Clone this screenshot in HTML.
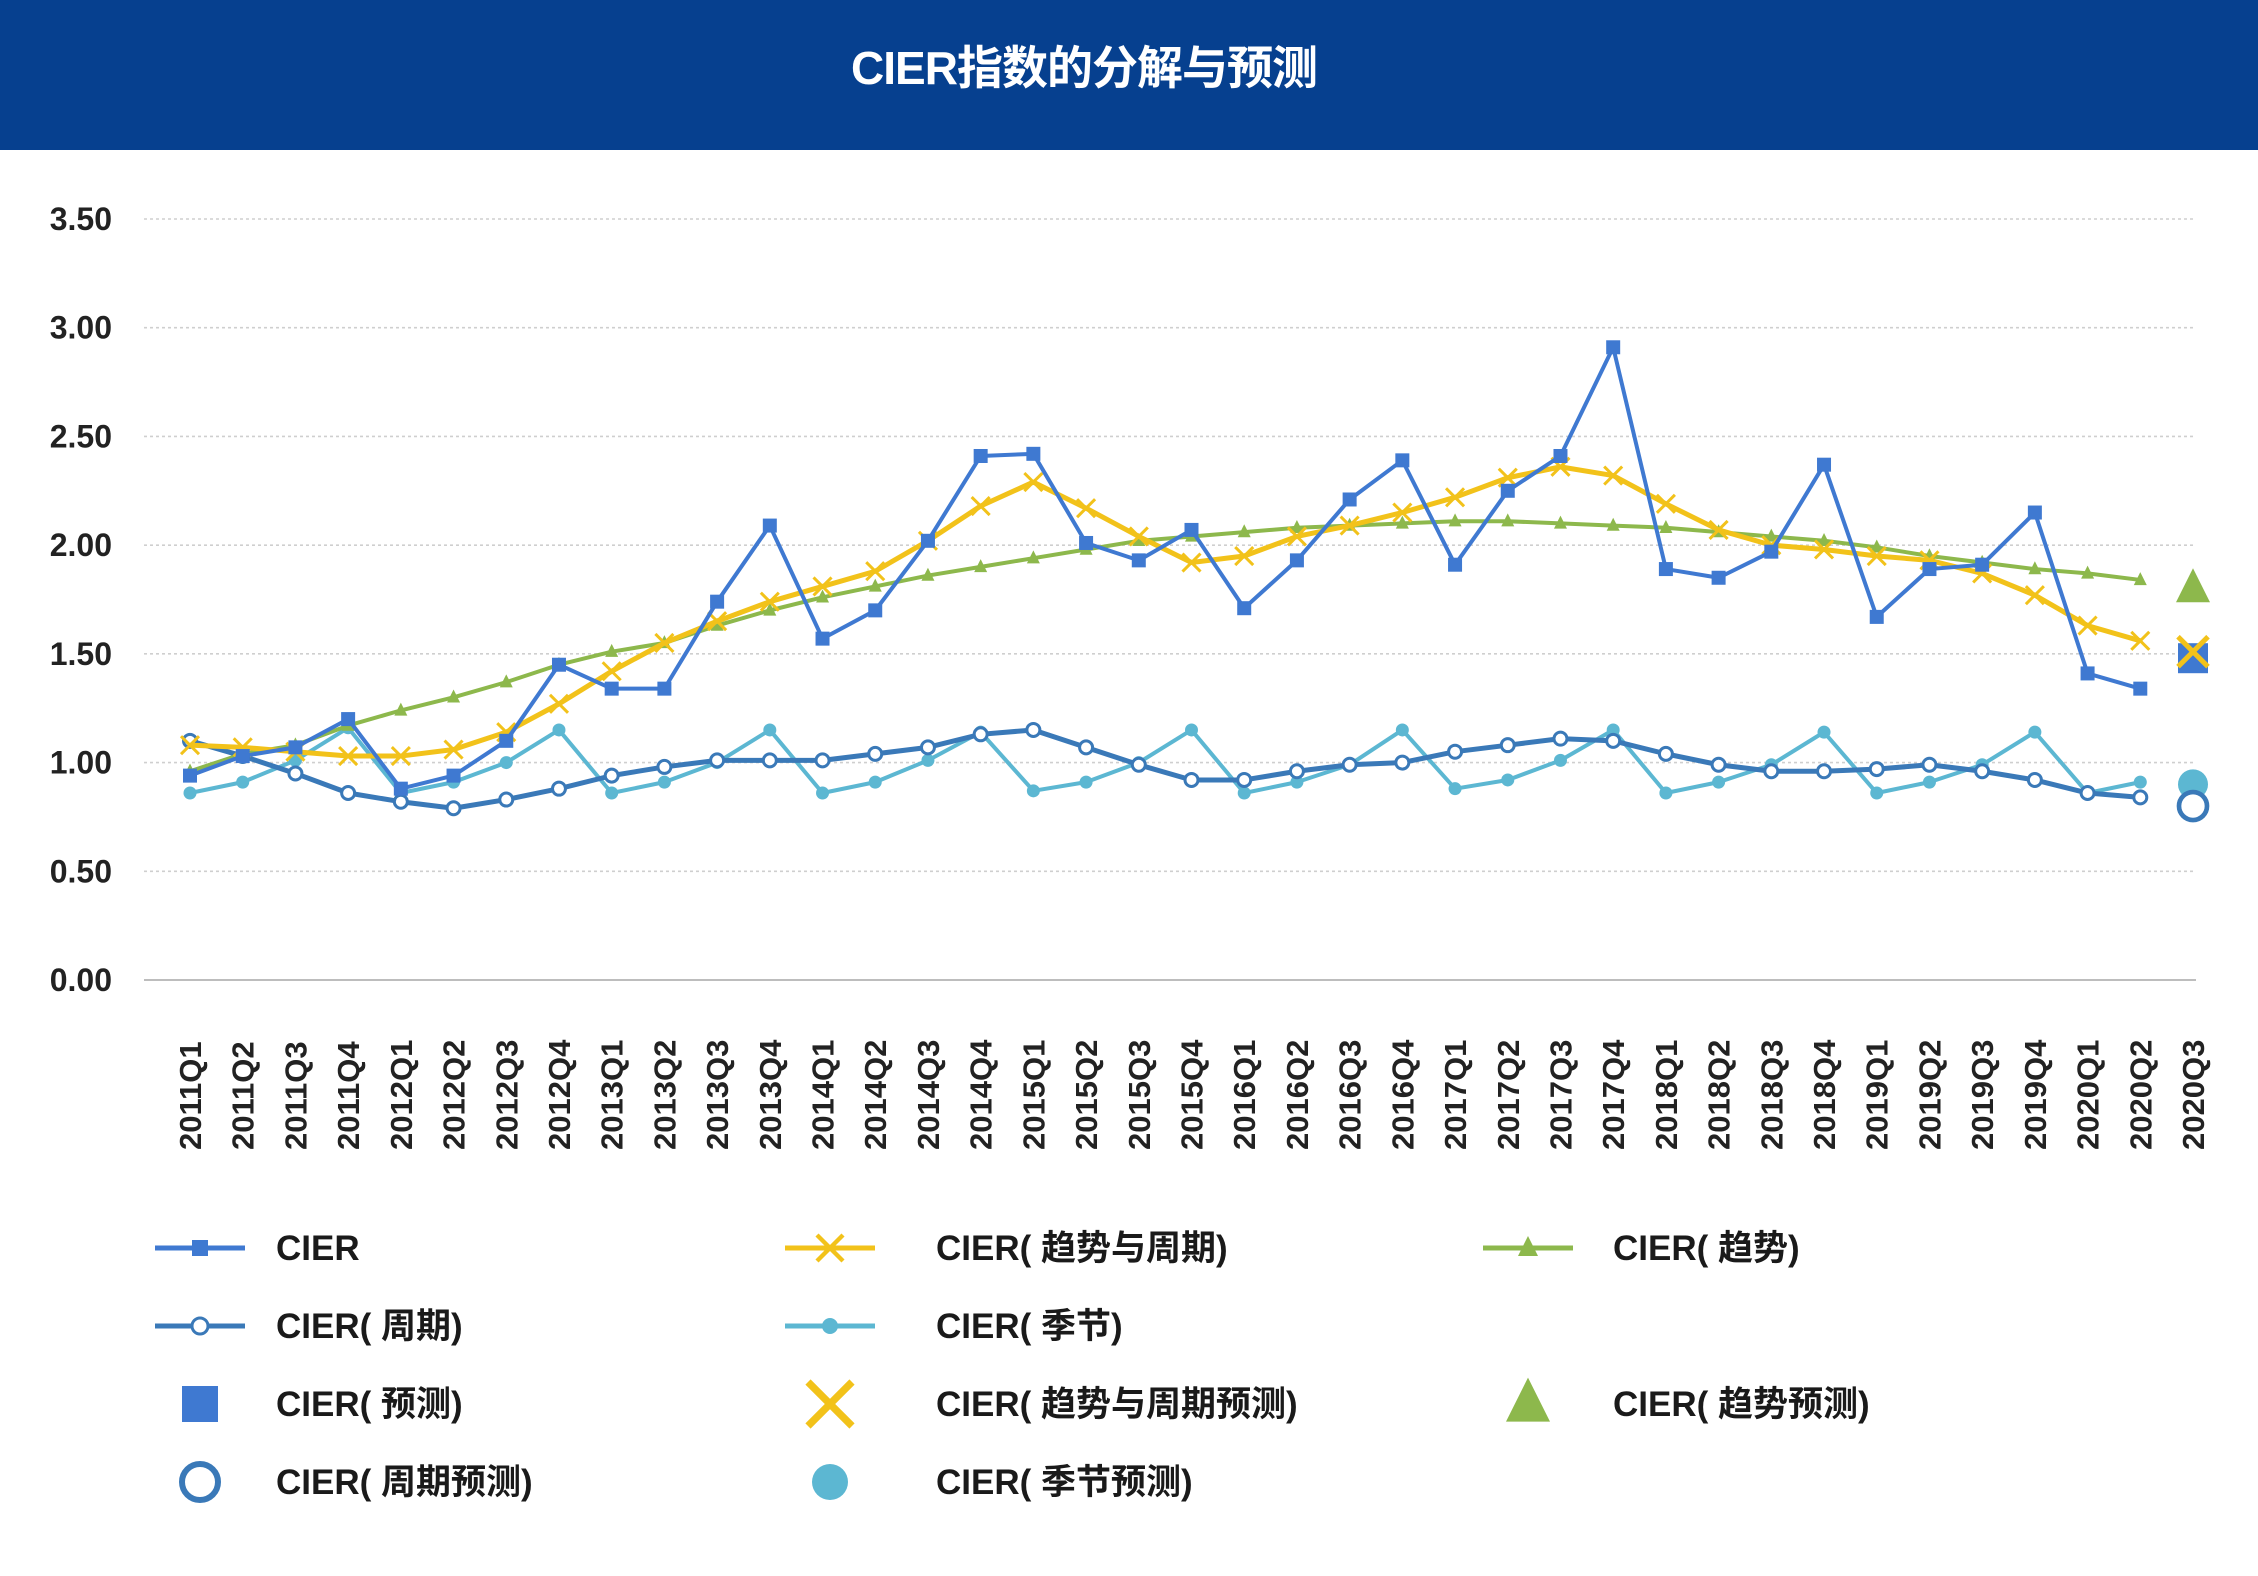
<!DOCTYPE html>
<html><head><meta charset="utf-8">
<style>
html,body{margin:0;padding:0;background:#fff;}
body{width:2258px;height:1576px;position:relative;overflow:hidden;font-family:"Liberation Sans","Noto Sans CJK SC",sans-serif;}
#hdr{position:absolute;left:0;top:0;width:2258px;height:150px;background:#06408f;}
#ttl{position:absolute;left:584px;top:0;width:1000px;height:136px;line-height:136px;text-align:center;color:#fff;font-size:46px;font-weight:bold;letter-spacing:-1px;}
svg{position:absolute;left:0;top:0;}
</style></head><body>
<div id="hdr"><div id="ttl">CIER指数的分解与预测</div></div>
<svg id="chart" width="2258" height="1576"></svg>
<script>
const categories=["2011Q1","2011Q2","2011Q3","2011Q4","2012Q1","2012Q2","2012Q3","2012Q4","2013Q1","2013Q2","2013Q3","2013Q4","2014Q1","2014Q2","2014Q3","2014Q4","2015Q1","2015Q2","2015Q3","2015Q4","2016Q1","2016Q2","2016Q3","2016Q4","2017Q1","2017Q2","2017Q3","2017Q4","2018Q1","2018Q2","2018Q3","2018Q4","2019Q1","2019Q2","2019Q3","2019Q4","2020Q1","2020Q2","2020Q3"];
const cier=[0.94,1.03,1.07,1.20,0.88,0.94,1.10,1.45,1.34,1.34,1.74,2.09,1.57,1.70,2.02,2.41,2.42,2.01,1.93,2.07,1.71,1.93,2.21,2.39,1.91,2.25,2.41,2.91,1.89,1.85,1.97,2.37,1.67,1.89,1.91,2.15,1.41,1.34];
const trendCycle=[1.08,1.07,1.05,1.03,1.03,1.06,1.14,1.27,1.42,1.55,1.65,1.74,1.81,1.88,2.02,2.18,2.29,2.17,2.04,1.92,1.95,2.04,2.09,2.15,2.22,2.31,2.36,2.32,2.19,2.07,2.00,1.98,1.95,1.93,1.87,1.77,1.63,1.56];
const trend=[0.96,1.04,1.08,1.17,1.24,1.30,1.37,1.45,1.51,1.55,1.63,1.70,1.76,1.81,1.86,1.90,1.94,1.98,2.02,2.04,2.06,2.08,2.09,2.10,2.11,2.11,2.10,2.09,2.08,2.06,2.04,2.02,1.99,1.95,1.92,1.89,1.87,1.84];
const cycle=[1.10,1.03,0.95,0.86,0.82,0.79,0.83,0.88,0.94,0.98,1.01,1.01,1.01,1.04,1.07,1.13,1.15,1.07,0.99,0.92,0.92,0.96,0.99,1.00,1.05,1.08,1.11,1.10,1.04,0.99,0.96,0.96,0.97,0.99,0.96,0.92,0.86,0.84];
const seasonal=[0.86,0.91,1.01,1.16,0.86,0.91,1.00,1.15,0.86,0.91,1.00,1.15,0.86,0.91,1.01,1.14,0.87,0.91,1.00,1.15,0.86,0.91,0.99,1.15,0.88,0.92,1.01,1.15,0.86,0.91,0.99,1.14,0.86,0.91,0.99,1.14,0.86,0.91];
const fcCier=[1.48], fcTrendCycle=[1.51], fcTrend=[1.80], fcCycle=[0.80], fcSeasonal=[0.90];
const yTicks=["0.00","0.50","1.00","1.50","2.00","2.50","3.00","3.50"];

const NS="http://www.w3.org/2000/svg";
const svg=document.getElementById('chart');
const x0=190,x1=2193,yb=980,yt=219,ymax=3.5;
const X=i=>x0+(x1-x0)*i/(categories.length-1);
const Y=v=>yb-(yb-yt)*v/ymax;
function mk(tag,attrs,parent){const e=document.createElementNS(NS,tag);for(const k in attrs)e.setAttribute(k,attrs[k]);(parent||svg).appendChild(e);return e;}

yTicks.forEach(t=>{
  const v=parseFloat(t),y=Y(v);
  const g=mk('line',{x1:144,x2:2196,y1:y,y2:y,stroke:v===0?'#bdbdbd':'#cfcfcf','stroke-width':v===0?2:1.6,'stroke-dasharray':v===0?'':'3 3'});
  
  
  const tx=mk('text',{x:112,y:y+11,'text-anchor':'end','font-size':32,'font-weight':'bold',fill:'#222'});
  tx.textContent=t;
  
  
});
categories.forEach((c,i)=>{
  const tx=mk('text',{transform:`translate(${X(i)+11},1150) rotate(-90)`,'font-size':31,'font-weight':'bold',fill:'#222'});
  tx.textContent=c;
  
  
});

function marker(type,cx,cy,color,s,parent){
  let e;
  if(type==='square'){e=mk('rect',{x:cx-s/2,y:cy-s/2,width:s,height:s,fill:color},parent);}
  else if(type==='x'){e=mk('path',{d:`M${cx-s/2} ${cy-s/2}L${cx+s/2} ${cy+s/2}M${cx+s/2} ${cy-s/2}L${cx-s/2} ${cy+s/2}`,stroke:color,'stroke-width':Math.max(3,s/6),fill:'none'},parent);}
  else if(type==='tri'){e=mk('path',{d:`M${cx} ${cy-s*0.6}L${cx+s/2} ${cy+s*0.4}L${cx-s/2} ${cy+s*0.4}Z`,fill:color},parent);}
  else if(type==='open'){e=mk('circle',{cx:cx,cy:cy,r:s/2,fill:'#fff',stroke:color,'stroke-width':Math.max(3,s/6)},parent);}
  else {e=mk('circle',{cx:cx,cy:cy,r:s/2,fill:color},parent);}
  return e;
}
function series(name,vals,color,w,type,s){
  const g=mk('g',{});
  
  
  const p=mk('polyline',{points:vals.map((v,i)=>X(i)+','+Y(v)).join(' '),fill:'none',stroke:color,'stroke-width':w,'stroke-linejoin':'round'},g);
  
  
  vals.forEach((v,i)=>{const m=marker(type,X(i),Y(v),color,s,g);
    
    });
}
series('seasonal',seasonal,'#5cb7d2',4,'dot',13);
series('cycle',cycle,'#3a79b8',5,'open',13);
series('trend',trend,'#8db84c',4,'tri',13);
series('trend-cycle',trendCycle,'#f2c21a',5,'x',18);
series('cier',cier,'#3f79d1',4,'square',14);
const last=categories.length-1;
[['cier-forecast',fcCier,'#3f79d1','square',30],['trend-cycle-forecast',fcTrendCycle,'#f2c21a','x',30],['trend-forecast',fcTrend,'#8db84c','tri',34],['seasonal-forecast',fcSeasonal,'#5cb7d2','dot',30],['cycle-forecast',fcCycle,'#3a79b8','open',28]].forEach(a=>{
  const m=marker(a[3],X(last),Y(a[1][0]),a[2],a[4]);
  
  
});

const legend=[
 [155,276,1248,'line','square','#3f79d1','CIER'],[785,936,1248,'line','x','#f2c21a','CIER( 趋势与周期)'],[1483,1613,1248,'line','tri','#8db84c','CIER( 趋势)'],
 [155,276,1326,'line','open','#3a79b8','CIER( 周期)'],[785,936,1326,'line','dot','#5cb7d2','CIER( 季节)'],
 [155,276,1404,'big','square','#3f79d1','CIER( 预测)'],[785,936,1404,'big','x','#f2c21a','CIER( 趋势与周期预测)'],[1483,1613,1404,'big','tri','#8db84c','CIER( 趋势预测)'],
 [155,276,1482,'big','open','#3a79b8','CIER( 周期预测)'],[785,936,1482,'big','dot','#5cb7d2','CIER( 季节预测)']
];
legend.forEach(l=>{
  const g=mk('g',{});
  
  
  const cx=l[0]+45;
  if(l[3]==='line'){
    mk('line',{x1:l[0],x2:l[0]+90,y1:l[2],y2:l[2],stroke:l[5],'stroke-width':5},g);
    marker(l[4],cx,l[2],l[5],l[4]==='x'?26:l[4]==='tri'?20:16,g);
  } else {
    marker(l[4],cx,l[2],l[5],l[4]==='tri'?44:l[4]==='x'?44:36,g);
  }
  const t=mk('text',{x:l[1],y:l[2]+12,'font-size':35,'font-weight':'bold',fill:'#1a1a1a','textLength':null},g);
  t.removeAttribute('textLength');
  t.textContent=l[6];
});
</script>
</body></html>
